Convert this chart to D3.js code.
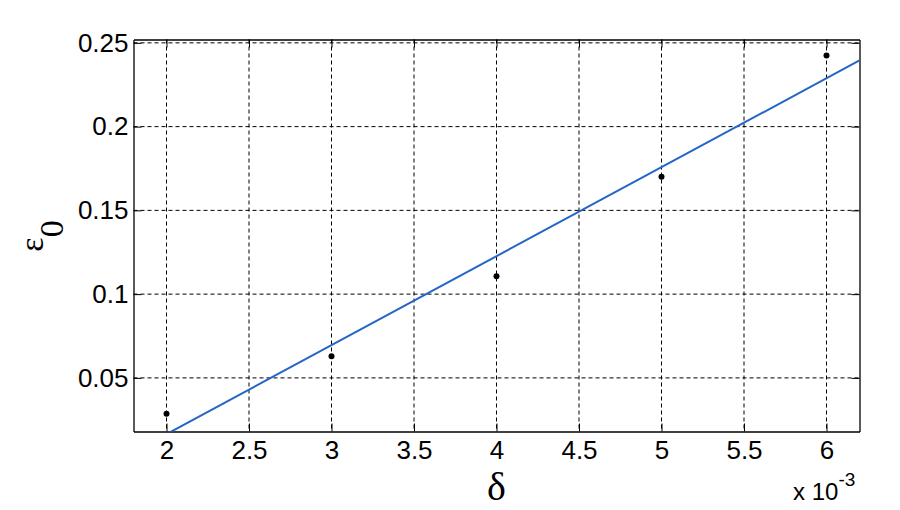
<!DOCTYPE html>
<html>
<head>
<meta charset="utf-8">
<script src="https://cdn.jsdelivr.net/npm/d3@7"></script>
<style>
  body { margin: 0; background: #fff; }
  svg { display: block; }
</style>
</head>
<body>
<div id="chart"></div>
<script>
// delta values are in units of 10^-3
const deltaValues = [2, 3, 4, 5, 6];
const epsValues = [0.0286, 0.0629, 0.1107, 0.170, 0.2424];
// end points of the fitted line
const fitDelta = [1.8, 6.2];
const fitEps = [0.0058, 0.2395];
const xTicks = [2, 2.5, 3, 3.5, 4, 4.5, 5, 5.5, 6];
const yTicks = [0.05, 0.1, 0.15, 0.2, 0.25];

const margin = { top: 39.5, left: 133.5 },
  width = 726,
  height = 392;

const sans = "'Liberation Sans', Arial, sans-serif";
const serif = "'Liberation Serif', 'Times New Roman', serif";

const svg = d3.select("#chart")
  .append("svg")
  .attr("width", 900)
  .attr("height", 510);

const chart = svg.append("g")
  .attr("transform", `translate(${margin.left},${margin.top})`);

const x = d3.scaleLinear().domain([1.8, 6.2]).range([0, width]);
const y = d3.scaleLinear().domain([0.018, 0.252]).range([height, 0]);

// grid
chart.append("g")
  .selectAll("line")
  .data(xTicks)
  .join("line")
  .attr("x1", d => x(d)).attr("x2", d => x(d))
  .attr("y1", 0).attr("y2", height)
  .attr("stroke", "#000")
  .attr("stroke-dasharray", "4,3");

chart.append("g")
  .selectAll("line")
  .data(yTicks)
  .join("line")
  .attr("y1", d => y(d)).attr("y2", d => y(d))
  .attr("x1", 0).attr("x2", width)
  .attr("stroke", "#000")
  .attr("stroke-dasharray", "4,3");

// axes, ticks pointing inward
const fmt = d => String(d);

const xAxis = chart.append("g")
  .attr("transform", `translate(0,${height})`)
  .call(d3.axisBottom(x).tickValues(xTicks).tickFormat(fmt)
    .tickSizeInner(-8).tickSizeOuter(0).tickPadding(9));

const yAxis = chart.append("g")
  .call(d3.axisLeft(y).tickValues(yTicks).tickFormat(fmt)
    .tickSizeInner(-8).tickSizeOuter(0).tickPadding(5));

chart.append("g")
  .call(d3.axisTop(x).tickValues(xTicks).tickFormat("")
    .tickSizeInner(-8).tickSizeOuter(0));

chart.append("g")
  .attr("transform", `translate(${width},0)`)
  .call(d3.axisRight(y).tickValues(yTicks).tickFormat("")
    .tickSizeInner(-8).tickSizeOuter(0));

chart.selectAll(".domain").attr("stroke", "#000").attr("stroke-width", 1.3);
chart.selectAll(".tick line").attr("stroke", "#000");
[xAxis, yAxis].forEach(a => a.selectAll("text")
  .attr("fill", "#000")
  .style("font-family", sans)
  .style("font-size", "26px"));

// fitted line
chart.append("clipPath")
  .attr("id", "clip")
  .append("rect")
  .attr("width", width)
  .attr("height", height);

const fit = fitDelta.map((d, i) => [d, fitEps[i]]);
chart.append("path")
  .datum(fit)
  .attr("clip-path", "url(#clip)")
  .attr("fill", "none")
  .attr("stroke", "#2565c7")
  .attr("stroke-width", 2)
  .attr("d", d3.line().x(d => x(d[0])).y(d => y(d[1])));

// measured points
chart.append("g")
  .selectAll("circle")
  .data(deltaValues)
  .join("circle")
  .attr("cx", d => x(d))
  .attr("cy", (d, i) => y(epsValues[i]))
  .attr("r", 3)
  .attr("fill", "#000");

// labels
svg.append("text")
  .attr("x", margin.left + width / 2)
  .attr("y", 500)
  .attr("text-anchor", "middle")
  .style("font-family", serif)
  .style("font-size", "40px")
  .text("δ");

const yl = svg.append("text")
  .attr("transform", "translate(43,236) rotate(-90)")
  .attr("text-anchor", "middle")
  .style("font-family", serif)
  .style("font-size", "34px");
yl.append("tspan").text("ε");
yl.append("tspan").attr("dy", 20).text("0");

const exp = svg.append("text")
  .attr("x", 793)
  .attr("y", 500)
  .style("font-family", sans)
  .style("font-size", "24px");
exp.append("tspan").text("x 10");
exp.append("tspan").attr("dy", -14).style("font-size", "19px").text("-3");
</script>
</body>
</html>
